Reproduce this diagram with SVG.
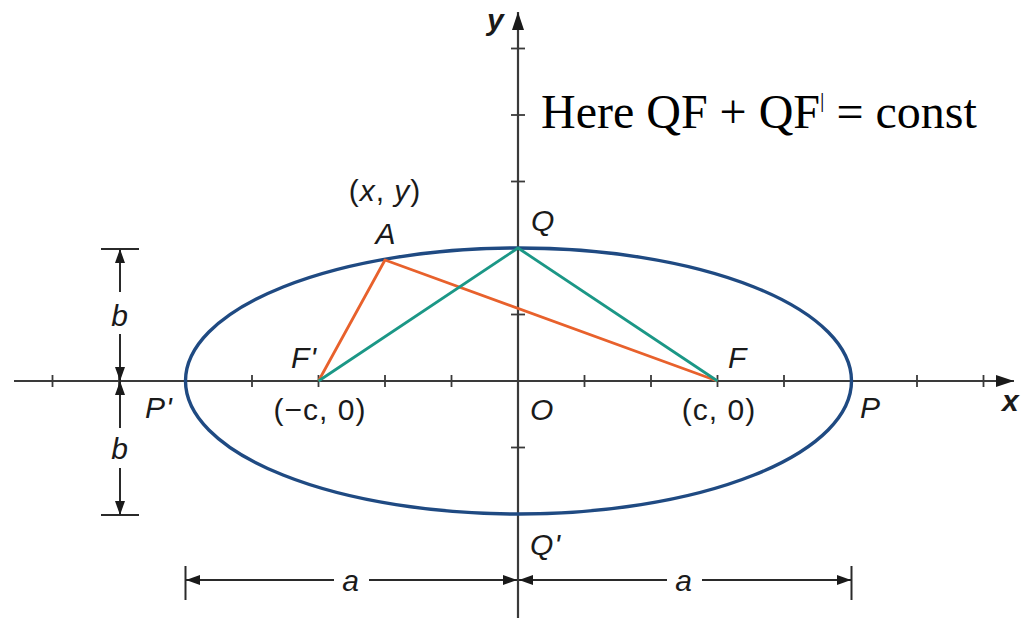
<svg xmlns="http://www.w3.org/2000/svg" width="1021" height="618" viewBox="0 0 1021 618">
<defs>
<marker id="ah" viewBox="0 0 14 10" refX="14" refY="5" markerWidth="14" markerHeight="10" markerUnits="userSpaceOnUse" orient="auto-start-reverse"><path d="M0,0 L14,5 L0,10 Z" fill="#1a1a1a"/></marker>
<marker id="axh" viewBox="0 0 18 12" refX="18" refY="6" markerWidth="18" markerHeight="12" markerUnits="userSpaceOnUse" orient="auto"><path d="M0,0 L18,6 L0,12 Z" fill="#1a1a1a"/></marker>
</defs>
<style>
.ax{stroke:#3a3a3a;stroke-width:2.2;fill:none}
.tk{stroke:#3a3a3a;stroke-width:1.8}
.dim{stroke:#2a2a2a;stroke-width:2;fill:none}
.lb{font-family:"Liberation Sans",Arial,sans-serif;font-size:30px;fill:#1a1a1a;letter-spacing:1px}
.it{font-style:italic}
.ttl{font-family:"Liberation Serif","Times New Roman",serif;font-size:48px;fill:#000}
</style>
<rect width="1021" height="618" fill="#fff"/>
<g id="axes">
<line class="ax" x1="14" y1="381" x2="1014" y2="381" marker-end="url(#axh)"/>
<line class="ax" x1="518" y1="618" x2="518" y2="12" marker-end="url(#axh)"/>
<g class="tk">
<line x1="52.5" y1="375" x2="52.5" y2="387"/><line x1="119" y1="375" x2="119" y2="387"/><line x1="252" y1="375" x2="252" y2="387"/><line x1="385" y1="375" x2="385" y2="387"/><line x1="451.5" y1="375" x2="451.5" y2="387"/><line x1="318.5" y1="375" x2="318.5" y2="387"/>
<line x1="584.5" y1="375" x2="584.5" y2="387"/><line x1="651" y1="375" x2="651" y2="387"/><line x1="717.5" y1="375" x2="717.5" y2="387"/><line x1="784" y1="375" x2="784" y2="387"/><line x1="917" y1="375" x2="917" y2="387"/><line x1="983.5" y1="375" x2="983.5" y2="387"/>
<line x1="511" y1="48.5" x2="525" y2="48.5"/><line x1="511" y1="115" x2="525" y2="115"/><line x1="511" y1="181.5" x2="525" y2="181.5"/><line x1="511" y1="314.5" x2="525" y2="314.5"/><line x1="511" y1="447.5" x2="525" y2="447.5"/>
</g>
</g>
<g id="ellipse"><ellipse cx="518.5" cy="381" rx="333" ry="133" fill="none" stroke="#1f4a82" stroke-width="3.4"/></g>
<g id="connectors">
<polyline points="318.5,381 385,260 717.5,381" fill="none" stroke="#e8612c" stroke-width="2.8" stroke-linejoin="round"/>
<polyline points="318.5,381 518,248 717.5,381" fill="none" stroke="#1b9786" stroke-width="2.8" stroke-linejoin="round"/>
</g>
<g id="dim-b">
<line class="dim" x1="101" y1="249" x2="139" y2="249"/>
<line class="dim" x1="101" y1="515" x2="139" y2="515"/>
<line class="dim" x1="120" y1="292" x2="120" y2="249" marker-end="url(#ah)"/>
<line class="dim" x1="120" y1="334" x2="120" y2="381" marker-end="url(#ah)"/>
<line class="dim" x1="120" y1="428" x2="120" y2="381" marker-end="url(#ah)"/>
<line class="dim" x1="120" y1="468" x2="120" y2="515" marker-end="url(#ah)"/>
</g>
<g id="dim-a">
<line class="dim" x1="185.5" y1="566" x2="185.5" y2="600"/>
<line class="dim" x1="851.5" y1="566" x2="851.5" y2="600"/>
<line class="dim" x1="334" y1="580" x2="186" y2="580" marker-end="url(#ah)"/>
<line class="dim" x1="369" y1="580" x2="517" y2="580" marker-end="url(#ah)"/>
<line class="dim" x1="667" y1="580" x2="519" y2="580" marker-end="url(#ah)"/>
<line class="dim" x1="702" y1="580" x2="851" y2="580" marker-end="url(#ah)"/>
</g>
<g id="labels">
<text class="lb it" x="487" y="30" font-weight="bold" font-size="27">y</text>
<text class="lb it" x="1002" y="411" font-weight="bold" font-size="27">x</text>
<text class="lb" x="385" y="201" text-anchor="middle">(<tspan class="it">x</tspan>, <tspan class="it">y</tspan>)</text>
<text class="lb it" x="386" y="244" text-anchor="middle">A</text>
<text class="lb it" x="531" y="231">Q</text>
<text class="lb it" x="291" y="368">F'</text>
<text class="lb it" x="728" y="368">F</text>
<text class="lb it" x="145" y="418">P'</text>
<text class="lb" x="320" y="420" text-anchor="middle" letter-spacing="2.5">(−c, 0)</text>
<text class="lb it" x="530" y="420">O</text>
<text class="lb" x="719" y="420" text-anchor="middle" letter-spacing="1.6">(c, 0)</text>
<text class="lb it" x="860" y="418">P</text>
<text class="lb it" x="530" y="555">Q'</text>
<text class="lb it" x="120" y="326" text-anchor="middle">b</text>
<text class="lb it" x="120" y="459" text-anchor="middle">b</text>
<text class="lb it" x="351" y="591" text-anchor="middle">a</text>
<text class="lb it" x="684" y="591" text-anchor="middle">a</text>
</g>
<g id="caption">
<text class="ttl" x="541" y="128">Here QF + QF<tspan font-size="22" dy="-21">|</tspan><tspan dy="21"> = const</tspan></text>
</g>
</svg>
